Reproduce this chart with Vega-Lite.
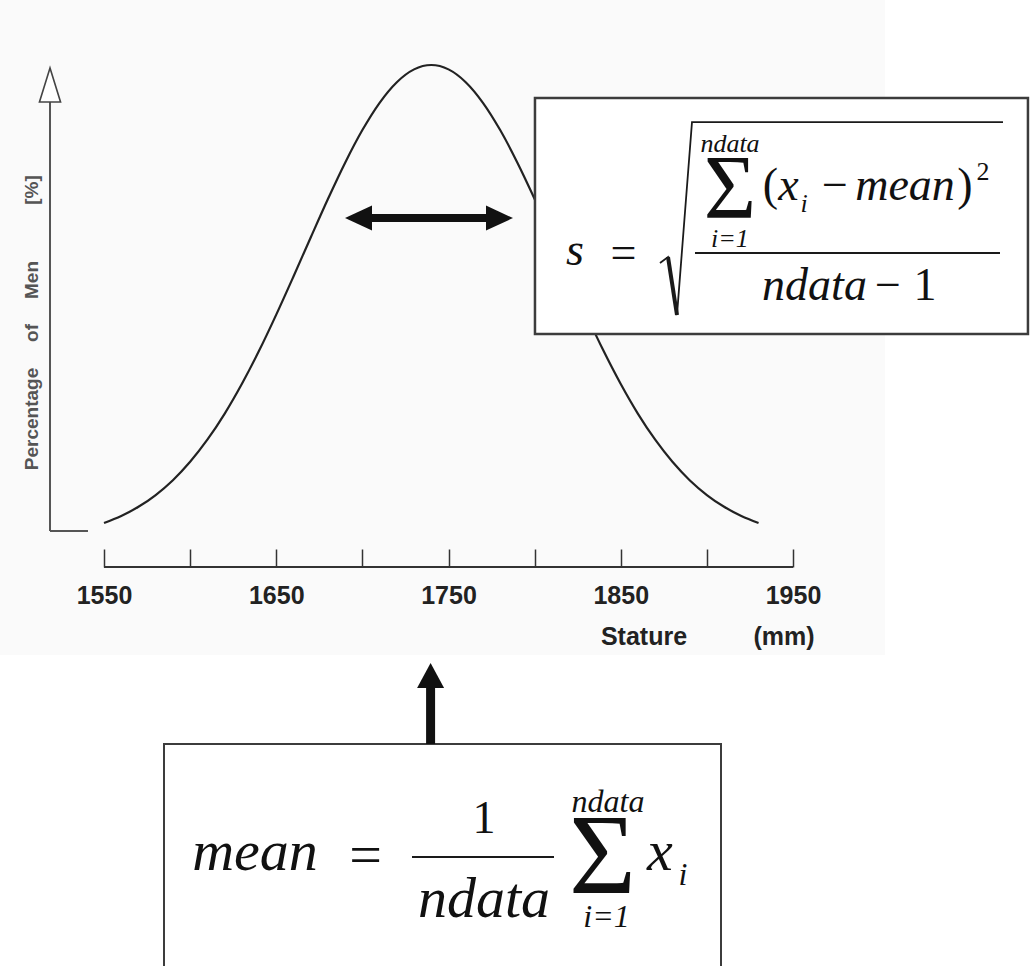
{
  "$schema": "https://vega.github.io/schema/vega-lite/v6.json",
  "width": 1031,
  "height": 966,
  "autosize": {"type": "fit", "contains": "padding"},
  "padding": 0,
  "background": "white",
  "config": {"view": {"stroke": null}},
  "datasets": {
    "curve": [
      {"x": 1550, "y": 0.255}, {"x": 1560, "y": 0.359}, {"x": 1570, "y": 0.495}, {"x": 1580, "y": 0.671},
      {"x": 1590, "y": 0.892}, {"x": 1600, "y": 1.166}, {"x": 1610, "y": 1.495}, {"x": 1620, "y": 1.881},
      {"x": 1630, "y": 2.325}, {"x": 1640, "y": 2.820}, {"x": 1650, "y": 3.360}, {"x": 1660, "y": 3.929},
      {"x": 1670, "y": 4.510}, {"x": 1680, "y": 5.083}, {"x": 1690, "y": 5.625}, {"x": 1700, "y": 6.111},
      {"x": 1710, "y": 6.518}, {"x": 1720, "y": 6.825}, {"x": 1730, "y": 7.016}, {"x": 1740, "y": 7.081},
      {"x": 1750, "y": 7.016}, {"x": 1760, "y": 6.825}, {"x": 1770, "y": 6.518}, {"x": 1780, "y": 6.111},
      {"x": 1790, "y": 5.625}, {"x": 1800, "y": 5.083}, {"x": 1810, "y": 4.510}, {"x": 1820, "y": 3.929},
      {"x": 1830, "y": 3.360}, {"x": 1840, "y": 2.820}, {"x": 1850, "y": 2.325}, {"x": 1860, "y": 1.881},
      {"x": 1870, "y": 1.495}, {"x": 1880, "y": 1.166}, {"x": 1890, "y": 0.892}, {"x": 1900, "y": 0.671},
      {"x": 1910, "y": 0.495}, {"x": 1920, "y": 0.359}, {"x": 1930, "y": 0.255}
    ],
    "formula": [
      {"g": "it46", "t": "s", "x": 1823.44, "y": 4.100},
      {"g": "rm46", "t": "=", "x": 1851.59, "y": 4.055},
      {"g": "rm46", "t": "(", "x": 1936.93, "y": 5.069},
      {"g": "it46", "t": "x", "x": 1947.38, "y": 5.069},
      {"g": "rm46", "t": "−", "x": 1974.38, "y": 5.069},
      {"g": "it46", "t": "mean", "x": 2015.02, "y": 5.069},
      {"g": "rm46", "t": ")", "x": 2049.85, "y": 5.069},
      {"g": "rm26", "t": "2", "x": 2060.3, "y": 5.367},
      {"g": "it26", "t": "ndata", "x": 1913.42, "y": 5.784},
      {"g": "it26", "t": "i=1", "x": 1913.42, "y": 4.368},
      {"g": "it26", "t": "i", "x": 1956.38, "y": 4.890},
      {"g": "sig90", "t": "Σ", "x": 1913.42, "y": 4.800},
      {"g": "it46", "t": "ndata", "x": 1962.48, "y": 3.578},
      {"g": "rm46", "t": "−", "x": 2005.2, "y": 3.578},
      {"g": "rm46", "t": "1", "x": 2026.63, "y": 3.578},
      {"g": "it58", "t": "mean", "x": 1637.66, "y": -4.919},
      {"g": "rm58", "t": "=", "x": 1701.81, "y": -4.979},
      {"g": "rm46", "t": "1", "x": 1770.61, "y": -4.367},
      {"g": "it58", "t": "ndata", "x": 1770.61, "y": -5.620},
      {"g": "sig115", "t": "Σ", "x": 1839.40, "y": -5.262},
      {"g": "it32", "t": "ndata", "x": 1842.60, "y": -4.054},
      {"g": "it32", "t": "i=1", "x": 1841.72, "y": -5.769},
      {"g": "it58", "t": "x", "x": 1872.78, "y": -4.919},
      {"g": "it32", "t": "i", "x": 1886.14, "y": -5.143},
      {"g": "ytitle", "t": "Percentage", "x": 1508.2, "y": 1.804},
      {"g": "ytitle", "t": "of", "x": 1508.2, "y": 3.086},
      {"g": "ytitle", "t": "Men", "x": 1508.2, "y": 3.876},
      {"g": "ytitle", "t": "[%]", "x": 1508.2, "y": 5.218},
      {"g": "xtitle", "t": "Stature", "x": 1863.49, "y": -1.565},
      {"g": "xtitle", "t": "(mm)", "x": 1944.77, "y": -1.565}
    ]
  },
  "encoding": {
    "x": {
      "field": "x",
      "type": "quantitative",
      "scale": {"domain": [1489.62, 2088.17], "nice": false, "zero": false},
      "axis": {
        "orient": "bottom",
        "offset": -399,
        "values": [1550, 1600, 1650, 1700, 1750, 1800, 1850, 1900, 1950],
        "format": "d",
        "labelExpr": "datum.value % 100 == 50 ? datum.label : ''",
        "domain": false,
        "grid": false,
        "title": null,
        "tickSize": -18,
        "tickWidth": 1.5,
        "tickColor": "#333333",
        "labelPadding": 54,
        "labelBaseline": "alphabetic",
        "labelFont": "Liberation Sans",
        "labelFontSize": 25,
        "labelFontWeight": "bold",
        "labelColor": "#222222",
        "labelFlush": false,
        "labelOverlap": false,
        "labelBound": false,
        "zindex": 1
      }
    },
    "y": {
      "field": "y",
      "type": "quantitative",
      "scale": {"domain": [-6.35, 8.05], "nice": false, "zero": false},
      "axis": null
    }
  },
  "layer": [
    {
      "data": {"values": [{"x": 1489.62, "x2": 2003.4, "y": 8.05, "y2": -1.714}]},
      "mark": {"type": "rect", "fill": "#fafafa"},
      "encoding": {"x2": {"field": "x2"}, "y2": {"field": "y2"}}
    },
    {
      "data": {"name": "curve"},
      "mark": {"type": "line", "interpolate": "monotone", "stroke": "#222222", "strokeWidth": 2.2}
    },
    {
      "data": {"values": [{"x": 1800.2, "x2": 2086.4, "y": 6.589, "y2": 3.071}]},
      "mark": {"type": "rect", "fill": "white", "stroke": "#3c3c3c", "strokeWidth": 2.5},
      "encoding": {"x2": {"field": "x2"}, "y2": {"field": "y2"}}
    },
    {
      "data": {"values": [{"x": 1584.83, "x2": 1908.2, "y": -3.041, "y2": -6.7}]},
      "mark": {"type": "rect", "fill": "white", "stroke": "#3c3c3c", "strokeWidth": 2, "clip": true},
      "encoding": {"x2": {"field": "x2"}, "y2": {"field": "y2"}}
    },
    {
      "data": {"values": [{"x": 1550, "x2": 1950, "y": -0.402}]},
      "mark": {"type": "rule", "stroke": "#333333", "strokeWidth": 2},
      "encoding": {"x2": {"field": "x2"}}
    },
    {
      "data": {"values": [{"x": 1518.65, "y": 6.53, "y2": 0.134}]},
      "mark": {"type": "rule", "stroke": "#555555", "strokeWidth": 2},
      "encoding": {"y2": {"field": "y2"}}
    },
    {
      "data": {"values": [{"x": 1518.65, "x2": 1540.7, "y": 0.134}]},
      "mark": {"type": "rule", "stroke": "#555555", "strokeWidth": 2},
      "encoding": {"x2": {"field": "x2"}}
    },
    {
      "data": {"values": [{"x": 1518.65, "y": 6.783}]},
      "mark": {"type": "point", "shape": "M0,-1L-0.62,1L0.62,1Z", "size": 1156, "filled": true, "fill": "white", "stroke": "#444444", "strokeWidth": 1.6, "opacity": 1}
    },
    {
      "data": {"values": [{"x": 1697.75, "x2": 1779.6, "y": 4.8}]},
      "mark": {"type": "rule", "stroke": "#111111", "strokeWidth": 8},
      "encoding": {"x2": {"field": "x2"}}
    },
    {
      "data": {"values": [{"x": 1697.75, "y": 4.8}]},
      "mark": {"type": "point", "shape": "M-1,0L1,-0.93L1,0.93Z", "size": 729, "filled": true, "color": "#111111", "opacity": 1}
    },
    {
      "data": {"values": [{"x": 1779.6, "y": 4.8}]},
      "mark": {"type": "point", "shape": "M1,0L-1,-0.93L-1,0.93Z", "size": 729, "filled": true, "color": "#111111", "opacity": 1}
    },
    {
      "data": {"values": [{"x": 1739.6, "y": -2.087, "y2": -3.041}]},
      "mark": {"type": "rule", "stroke": "#111111", "strokeWidth": 9},
      "encoding": {"y2": {"field": "y2"}}
    },
    {
      "data": {"values": [{"x": 1739.6, "y": -2.02}]},
      "mark": {"type": "point", "shape": "M0,-0.93L1,0.93L-1,0.93Z", "size": 729, "filled": true, "color": "#111111", "opacity": 1}
    },
    {
      "data": {"values": [
        {"o": 1, "x": 1872.78, "y": 4.130},
        {"o": 2, "x": 1877.43, "y": 4.219},
        {"o": 3, "x": 1882.65, "y": 3.354},
        {"o": 4, "x": 1891.36, "y": 6.231},
        {"o": 5, "x": 2071.91, "y": 6.231}
      ]},
      "mark": {"type": "line", "stroke": "#1a1a1a", "strokeWidth": 1.8},
      "encoding": {"order": {"field": "o", "type": "quantitative"}}
    },
    {
      "data": {"values": [{"x": 1877.43, "y": 4.219, "x2": 1882.65, "y2": 3.354}]},
      "mark": {"type": "rule", "stroke": "#1a1a1a", "strokeWidth": 4},
      "encoding": {"x2": {"field": "x2"}, "y2": {"field": "y2"}}
    },
    {
      "data": {"values": [
        {"x": 1893.10, "x2": 2070.17, "y": 4.279},
        {"x": 1728.81, "x2": 1811.25, "y": -4.725}
      ]},
      "mark": {"type": "rule", "stroke": "#1a1a1a", "strokeWidth": 2},
      "encoding": {"x2": {"field": "x2"}}
    },
    {
      "data": {"name": "formula"},
      "transform": [{"filter": "datum.g == 'it46'"}],
      "mark": {"type": "text", "font": "Liberation Serif", "fontStyle": "italic", "fontSize": 46, "align": "center", "baseline": "alphabetic", "color": "#111111"},
      "encoding": {"text": {"field": "t"}}
    },
    {
      "data": {"name": "formula"},
      "transform": [{"filter": "datum.g == 'rm46'"}],
      "mark": {"type": "text", "font": "Liberation Serif", "fontSize": 46, "align": "center", "baseline": "alphabetic", "color": "#111111"},
      "encoding": {"text": {"field": "t"}}
    },
    {
      "data": {"name": "formula"},
      "transform": [{"filter": "datum.g == 'it26'"}],
      "mark": {"type": "text", "font": "Liberation Serif", "fontStyle": "italic", "fontSize": 26, "align": "center", "baseline": "alphabetic", "color": "#111111"},
      "encoding": {"text": {"field": "t"}}
    },
    {
      "data": {"name": "formula"},
      "transform": [{"filter": "datum.g == 'rm26'"}],
      "mark": {"type": "text", "font": "Liberation Serif", "fontSize": 26, "align": "center", "baseline": "alphabetic", "color": "#111111"},
      "encoding": {"text": {"field": "t"}}
    },
    {
      "data": {"name": "formula"},
      "transform": [{"filter": "datum.g == 'sig90'"}],
      "mark": {"type": "text", "font": "Liberation Serif", "fontSize": 90, "align": "center", "baseline": "alphabetic", "color": "#111111"},
      "encoding": {"text": {"field": "t"}}
    },
    {
      "data": {"name": "formula"},
      "transform": [{"filter": "datum.g == 'it58'"}],
      "mark": {"type": "text", "font": "Liberation Serif", "fontStyle": "italic", "fontSize": 58, "align": "center", "baseline": "alphabetic", "color": "#111111"},
      "encoding": {"text": {"field": "t"}}
    },
    {
      "data": {"name": "formula"},
      "transform": [{"filter": "datum.g == 'rm58'"}],
      "mark": {"type": "text", "font": "Liberation Serif", "fontSize": 58, "align": "center", "baseline": "alphabetic", "color": "#111111"},
      "encoding": {"text": {"field": "t"}}
    },
    {
      "data": {"name": "formula"},
      "transform": [{"filter": "datum.g == 'sig115'"}],
      "mark": {"type": "text", "font": "Liberation Serif", "fontSize": 115, "align": "center", "baseline": "alphabetic", "color": "#111111"},
      "encoding": {"text": {"field": "t"}}
    },
    {
      "data": {"name": "formula"},
      "transform": [{"filter": "datum.g == 'it32'"}],
      "mark": {"type": "text", "font": "Liberation Serif", "fontStyle": "italic", "fontSize": 32, "align": "center", "baseline": "alphabetic", "color": "#111111"},
      "encoding": {"text": {"field": "t"}}
    },
    {
      "data": {"name": "formula"},
      "transform": [{"filter": "datum.g == 'ytitle'"}],
      "mark": {"type": "text", "font": "Liberation Sans", "fontWeight": "bold", "fontSize": 19, "angle": 270, "align": "center", "baseline": "middle", "color": "#555555"},
      "encoding": {"text": {"field": "t"}}
    },
    {
      "data": {"name": "formula"},
      "transform": [{"filter": "datum.g == 'xtitle'"}],
      "mark": {"type": "text", "font": "Liberation Sans", "fontWeight": "bold", "fontSize": 25, "align": "center", "baseline": "alphabetic", "color": "#222222"},
      "encoding": {"text": {"field": "t"}}
    }
  ]
}
